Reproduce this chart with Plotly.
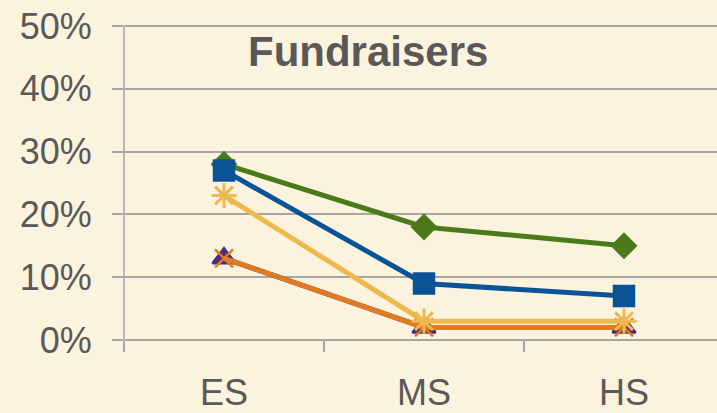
import plotly.graph_objects as go

categories = ["ES", "MS", "HS"]
green_vals = [0.28, 0.18, 0.15]
blue_vals = [0.27, 0.09, 0.07]
purple_vals = [0.13, 0.02, 0.02]
orange_vals = [0.13, 0.02, 0.02]
yellow_vals = [0.23, 0.03, 0.03]
y_ticks = [0, 0.1, 0.2, 0.3, 0.4, 0.5]
y_tick_labels = ["0%", "10%", "20%", "30%", "40%", "50%"]

bg = "#FCF3DE"
grid = "#A6A6A6"
txt = "#595959"

fig = go.Figure()

def add(vals, color, symbol, size, lw=5, mlw=2.5):
    fig.add_trace(go.Scatter(
        x=categories, y=vals, mode="lines+markers",
        line=dict(color=color, width=lw),
        marker=dict(symbol=symbol, size=size, color=color,
                    line=dict(color=color, width=mlw)),
        showlegend=False, cliponaxis=False))

add(green_vals, "#4A7A19", "diamond", 18)
add(blue_vals, "#0B5397", "square", 20)
add(purple_vals, "#4A2C80", "triangle-up", 20)
add(orange_vals, "#E07B22", "x-thin-open", 18)
add(yellow_vals, "#EDB84C", "asterisk-open", 21, mlw=3)

fig.update_layout(
    width=717, height=413, autosize=False,
    margin=dict(l=124, r=0, t=20, b=71),
    paper_bgcolor=bg, plot_bgcolor=bg,
    font=dict(family="Liberation Sans, Arial, sans-serif", color=txt),
    annotations=[dict(text="<b>Fundraisers</b>", xref="x domain", yref="y domain",
                      x=(368 - 124) / 593, y=(342 - 52) / 322,
                      xanchor="center", yanchor="middle",
                      showarrow=False, font=dict(size=42, color=txt))],
)

fig.update_xaxes(
    type="category", range=[-0.5, 2.465], tickson="boundaries",
    ticks="outside", ticklen=11, tickcolor=grid, tickwidth=1.5,
    showgrid=False, showline=False, zeroline=False,
    tickfont=dict(size=36, color=txt), ticklabelstandoff=28,
)
fig.update_yaxes(
    range=[0, 0.5 * 322 / 316], tickvals=y_ticks, ticktext=y_tick_labels,
    ticks="outside", ticklen=11, tickcolor=grid, tickwidth=1.5,
    showgrid=True, gridcolor=grid, gridwidth=1.5,
    showline=False, zeroline=True, zerolinecolor=grid, zerolinewidth=1.5,
    tickfont=dict(size=36, color=txt), ticklabelstandoff=13,
)
# vertical axis line from 50% down to the x-axis boundary tick
fig.add_shape(type="line", xref="x domain", yref="y", x0=0, x1=0, y0=0, y1=0.5,
              line=dict(color=grid, width=1.5))

fig.write_html("out.html", config={"displayModeBar": False}, post_script=(
    "document.body.style.margin='0';"
    "document.body.style.background='" + bg + "';"
    "document.body.style.overflow='hidden';"))
